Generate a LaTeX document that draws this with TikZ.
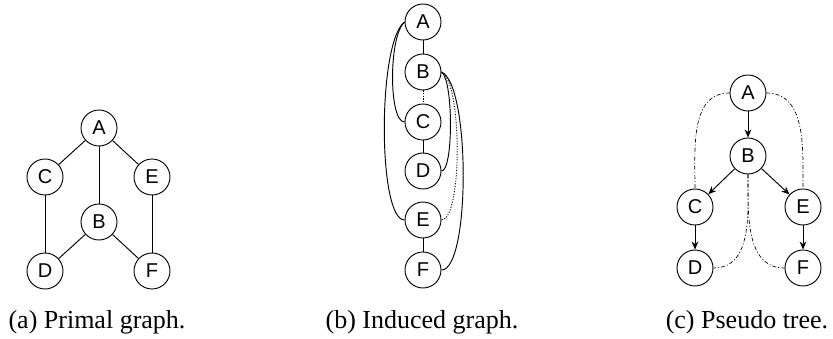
\documentclass[tikz,border=0pt]{standalone}
\usepackage{fontspec}
\setmainfont{Liberation Serif}
\newfontfamily\vtxfont{Liberation Sans}
\usetikzlibrary{arrows.meta}
\begin{document}
\begin{tikzpicture}[x=0.75pt, y=-0.75pt,
    vtx/.style={circle, draw, line width=0.7pt, minimum size=27pt, inner sep=0pt,
                font=\vtxfont\fontsize{15}{15}\selectfont},
    subcap/.style={anchor=base, font=\fontsize{19.5}{20}\selectfont},
    edge/.style={line width=0.7pt},
    dotedge/.style={line width=0.7pt, dash pattern=on 0.8pt off 1.2pt},
    backedge/.style={line width=0.5pt, dash pattern=on 3pt off 1.5pt on 0.8pt off 1.5pt},
    arr/.style={line width=0.7pt, -{Stealth[length=6pt, width=5pt]}}]
\useasboundingbox (0,0) rectangle (833,339);
% (a) primal graph
\node[vtx] (pA) at (99,128) {A};
\node[vtx] (pC) at (45,177) {C};
\node[vtx] (pE) at (152,177) {E};
\node[vtx] (pB) at (99,222) {B};
\node[vtx] (pD) at (45,271) {D};
\node[vtx] (pF) at (152,271) {F};
\draw[edge] (pA) -- (pC);
\draw[edge] (pA) -- (pE);
\draw[edge] (pA) -- (pB);
\draw[edge] (pC) -- (pD);
\draw[edge] (pE) -- (pF);
\draw[edge] (pB) -- (pD);
\draw[edge] (pB) -- (pF);
\node[subcap] (capa) at (97,328) {(a) Primal graph.};
% (b) induced graph
\node[vtx] (iA) at (423,22) {A};
\node[vtx] (iB) at (423,72) {B};
\node[vtx] (iC) at (423,122) {C};
\node[vtx] (iD) at (423,171) {D};
\node[vtx] (iE) at (423,220) {E};
\node[vtx] (iF) at (423,270) {F};
\draw[edge] (iA) -- (iB);
\draw[dotedge] (iB) -- (iC);
\draw[edge] (iC) -- (iD);
\draw[edge] (iE) -- (iF);
\draw[edge] (iA.west) .. controls +(-16,14) and +(-16,0) .. (iC.west);
\draw[edge] (iA.west) .. controls +(-27,20) and +(-27,0) .. (iE.west);
\draw[edge] (iB.east) .. controls +(12,8) and +(12,0) .. (iD.east);
\draw[dotedge] (iB.east) .. controls +(21,10) and +(21,0) .. (iE.east);
\draw[edge] (iB.east) .. controls +(29,12) and +(29,0) .. (iF.east);
\node[subcap] (capb) at (422,328) {(b) Induced graph.};
% (c) pseudo tree
\node[vtx] (tA) at (748,93) {A};
\node[vtx] (tB) at (748,156) {B};
\node[vtx] (tC) at (695,207) {C};
\node[vtx] (tE) at (803,207) {E};
\node[vtx] (tD) at (695,268) {D};
\node[vtx] (tF) at (803,268) {F};
\draw[arr] (tA) -- (tB);
\draw[arr] (tB) -- (tC);
\draw[arr] (tB) -- (tE);
\draw[arr] (tC) -- (tD);
\draw[arr] (tE) -- (tF);
\draw[backedge] (tA.west) to[out=180, in=90] (tC.north);
\draw[backedge] (tA.east) to[out=0, in=90] (tE.north);
\draw[backedge] (tB.south) to[out=-90, in=0] (tD.east);
\draw[backedge] (tB.south) to[out=-90, in=180] (tF.west);
\node[subcap] (capc) at (747,328) {(c) Pseudo tree.};
\end{tikzpicture}
\end{document}
